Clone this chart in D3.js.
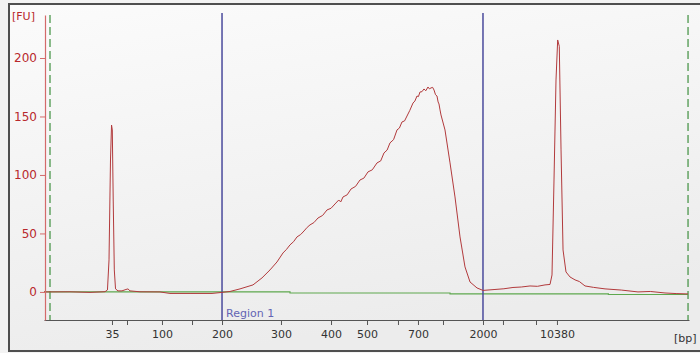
<!DOCTYPE html>
<html>
<head>
<meta charset="utf-8">
<script src="https://cdn.jsdelivr.net/npm/d3@7"></script>
<style>
  html, body { margin: 0; padding: 0; background: #f3f3f3; }
  #chart { width: 700px; height: 353px; }
</style>
</head>
<body>
<div id="chart"></div>
<script>
// ladder calibration: fragment size (bp) against migration time (s)
const ladderBp   = [35, 50, 100, 150, 200, 300, 400, 500, 600, 700, 1000, 2000, 3000, 7000, 10380];
const ladderTime = [30.54, 32.87, 38.29, 42.95, 47.60, 56.74, 64.50, 70.08, 74.88, 77.98, 81.86, 88.06, 91.16, 96.28, 99.53];
const labeledBp  = [35, 100, 200, 300, 400, 500, 700, 2000, 10380];

const yTicks = [0, 50, 100, 150, 200];

// region 1 limits (bp)
const regionBp = [200, 2000];
// analysis start / end (s)
const analysisTime = [20.93, 119.85];

// electropherogram trace
const traceTime = [
  20.00, 24.03, 27.13, 29.46, 29.84, 30.08, 30.31, 30.47, 30.59, 30.73, 30.90, 31.09, 31.47,
  32.09, 32.71, 33.02, 33.33, 34.88, 37.98, 39.53, 42.64, 46.05, 47.60, 48.84, 50.39,
  52.40, 53.80, 55.04, 56.12, 57.05, 57.6,
  58.14, 58.7, 59.22, 59.8, 60.31, 60.8, 61.24, 61.85, 62.48, 63.2, 63.88, 64.5, 65.12,
  65.7, 66.0, 66.36, 67.0, 67.60, 68.3, 68.99, 69.6, 70.23, 70.9, 71.63, 72.2, 72.71,
  73.2, 73.64, 74.2, 74.73, 75.1, 75.50, 75.9, 76.28, 76.7, 77.21, 77.5, 77.83, 78.05,
  78.29, 78.6, 78.91, 79.2, 79.53, 79.75, 80.00, 80.25, 80.47, 80.7, 80.93, 81.1, 81.24,
  81.4, 81.55, 82.17, 82.95, 83.72, 84.50, 85.27, 86.05, 87.13, 88.06, 89.92, 91.3,
  92.71, 94.0, 95.35, 96.5, 97.67, 98.45, 98.76, 99.07, 99.38, 99.64, 99.89, 100.16,
  100.47, 100.93, 101.55, 102.33, 103.0, 103.88, 105.2, 106.98, 109.5, 112.09, 114.0,
  116.28, 118.0, 119.85
];
const traceFU = [
  0, 0.1, -0.4, 0.2, 1.7, 27.4, 112.8, 142.7, 138.5, 78.6, 18.8, 2.6, 0.9,
  0.9, 2.1, 2.6, 0.9, 0.1, 0, -1.3, -1.3, -1.3, -0.4, 0.4, 2.6,
  6.0, 12.0, 18.8, 25.6, 33.3, 36.4,
  40.2, 43.0, 47.0, 49.1, 52.1, 55.2, 57.3, 59.3, 63.2, 65.4, 70.1, 71.5, 75.2,
  78.6, 76.9, 81.2, 83.0, 88.0, 90.2, 95.7, 97.3, 102.6, 104.4, 110.3, 112.0, 118.8,
  121.3, 127.4, 130.2, 138.5, 140.1, 145.3, 146.2, 150.4, 155.0, 161.5, 163.2, 167.5, 167.0,
  170.9, 171.2, 173.5, 172.0, 175.2, 173.6, 174.4, 174.9, 172.6, 168.6, 167.5, 162.4, 160.7,
  155.6, 151.3, 138.5, 110.3, 81.2, 47.0, 21.4, 8.5, 3.4, 1.3, 2.1, 2.7,
  3.8, 4.2, 5.1, 4.8, 6.0, 6.4, 14.5, 95.7, 181.2, 215.4, 210.0, 121.4,
  35.9, 17.1, 12.8, 10.3, 8.9, 5.1, 3.9, 2.6, 1.6, 0, 0.4,
  -0.9, -1.4, -1.7
];

// baseline fit
const baseTime = [20.00, 58.14, 58.14, 82.95, 82.95, 107.5, 107.5, 119.85];
const baseFU   = [0, 0, -0.9, -0.9, -1.6, -1.6, -2.2, -2.2];

const W = 700, H = 353;
const plot = {left: 44, right: 689, top: 15, bottom: 320};

const svg = d3.select('#chart')
  .append('svg')
  .attr('width', W)
  .attr('height', H)
  .style('font-family', '"DejaVu Sans", Verdana, sans-serif');

// panel background
const grad = svg.append('defs').append('linearGradient')
  .attr('id', 'bg').attr('x1', 0).attr('y1', 0).attr('x2', 0.3).attr('y2', 1);
grad.append('stop').attr('offset', '0%').attr('stop-color', '#fbfbfb');
grad.append('stop').attr('offset', '100%').attr('stop-color', '#ececec');

svg.append('rect')
  .attr('x', 9).attr('y', 4)
  .attr('width', W + 5).attr('height', 347)
  .attr('fill', 'url(#bg)')
  .attr('stroke', '#4f4f4f')
  .attr('stroke-width', 2);

// scales
const x = d3.scaleLinear()
  .domain([20, 120])
  .range([plot.left, plot.right]);

const y = d3.scaleLinear()
  .domain([-24, 236.75])
  .range([plot.bottom, plot.top]);

const bpToTime = d3.scaleLinear().domain(ladderBp).range(ladderTime);

// analysis window markers
svg.append('g')
  .selectAll('line')
  .data(analysisTime)
  .enter()
  .append('line')
  .attr('x1', d => x(d)).attr('x2', d => x(d))
  .attr('y1', plot.top).attr('y2', plot.bottom)
  .attr('stroke', '#3f8f3f')
  .attr('stroke-width', 1.2)
  .attr('stroke-dasharray', '8,4');

// baseline
const baseData = baseTime.map((t, i) => ({t: t, v: baseFU[i]}));
svg.append('path')
  .datum(baseData)
  .attr('d', d3.line().x(d => x(d.t)).y(d => y(d.v)))
  .attr('fill', 'none')
  .attr('stroke', '#5ea84e')
  .attr('stroke-width', 1.2);

// region lines
svg.append('g')
  .selectAll('line')
  .data(regionBp)
  .enter()
  .append('line')
  .attr('x1', d => x(bpToTime(d))).attr('x2', d => x(bpToTime(d)))
  .attr('y1', 13).attr('y2', plot.bottom)
  .attr('stroke', '#4a4a9c')
  .attr('stroke-width', 1.5);

svg.append('text')
  .attr('x', x(bpToTime(regionBp[0])) + 4)
  .attr('y', 317)
  .attr('fill', '#6464b4')
  .style('font-size', '11px')
  .text('Region 1');

// trace
const traceData = traceTime.map((t, i) => ({t: t, v: traceFU[i]}));
svg.append('path')
  .datum(traceData)
  .attr('d', d3.line().x(d => x(d.t)).y(d => y(d.v)))
  .attr('fill', 'none')
  .attr('stroke', '#b23a3c')
  .attr('stroke-width', 1)
  .attr('stroke-linejoin', 'round');

// x axis
const xAxis = svg.append('g')
  .attr('transform', 'translate(0,' + plot.bottom + ')')
  .call(d3.axisBottom(x)
    .tickValues(ladderBp.map(b => bpToTime(b)))
    .tickSize(5)
    .tickSizeOuter(0)
    .tickFormat((d, i) => labeledBp.includes(ladderBp[i]) ? ladderBp[i] : ''));
xAxis.select('.domain').attr('stroke', '#555').attr('stroke-width', 1.2);
xAxis.selectAll('.tick line').attr('stroke', '#555');
xAxis.selectAll('.tick text')
  .attr('fill', '#333')
  .attr('dy', '0.95em')
  .style('font-size', '11px')
  .style('font-family', '"DejaVu Sans", Verdana, sans-serif');

svg.append('text')
  .attr('x', 674).attr('y', 342)
  .attr('fill', '#333')
  .style('font-size', '11px')
  .text('[bp]');

// y axis
const yAxis = svg.append('g')
  .attr('transform', 'translate(' + (plot.left + 1) + ',0)')
  .call(d3.axisLeft(y).tickValues(yTicks).tickSize(5).tickSizeOuter(0));
yAxis.select('.domain').attr('stroke', '#d46a6a').attr('stroke-width', 1.2);
yAxis.selectAll('.tick line').attr('stroke', '#d46a6a');
yAxis.selectAll('.tick text')
  .attr('fill', '#b8282c')
  .style('font-size', '12px')
  .style('font-family', '"DejaVu Sans", Verdana, sans-serif');

svg.append('text')
  .attr('x', 12).attr('y', 20)
  .attr('fill', '#b8282c')
  .style('font-size', '11px')
  .text('[FU]');
</script>
</body>
</html>
